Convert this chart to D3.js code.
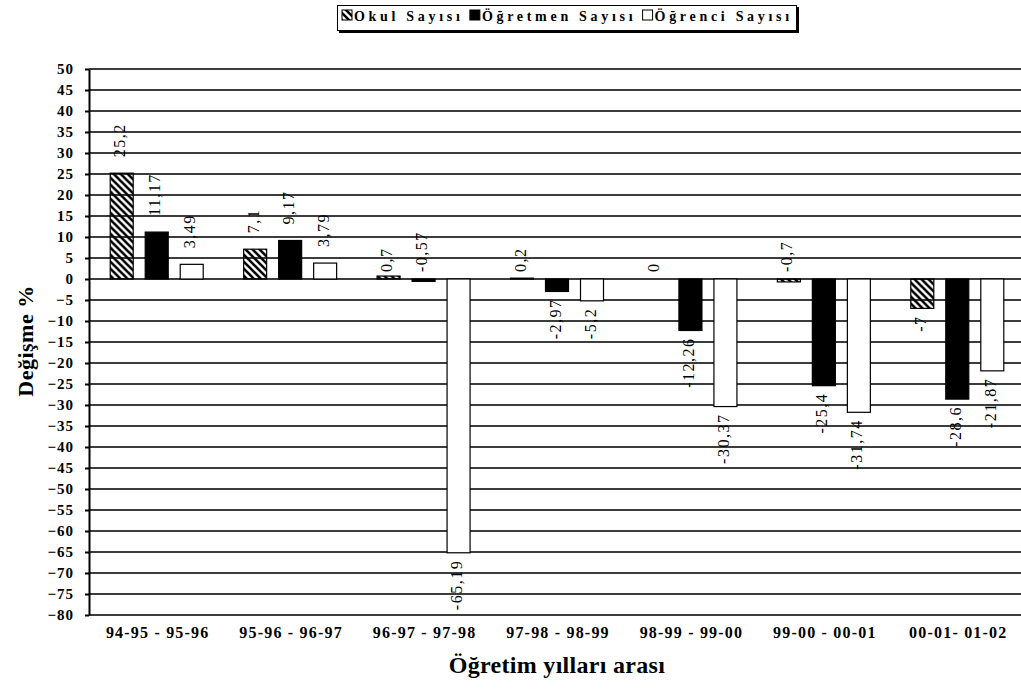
<!DOCTYPE html>
<html>
<head>
<meta charset="utf-8">
<script src="https://cdn.jsdelivr.net/npm/d3@7/dist/d3.min.js"></script>
<style>
  body { margin: 0; background: #fff; }
  svg { display: block; }
  svg text { font-family: 'Liberation Serif', 'Times New Roman', serif; }
</style>
</head>
<body>
<svg id="chart" width="1021" height="692"></svg>
<script>
// Data
let periods = ['94-95 - 95-96', '95-96 - 96-97', '96-97 - 97-98', '97-98 - 98-99',
               '98-99 - 99-00', '99-00 - 00-01', '00-01- 01-02'];
let seriesNames = ['Okul Sayısı', 'Öğretmen Sayısı', 'Öğrenci Sayısı'];
let okul = [25.2, 7.1, 0.7, 0.2, 0, -0.7, -7];
let ogretmen = [11.17, 9.17, -0.57, -2.97, -12.26, -25.4, -28.6];
let ogrenci = [3.49, 3.79, -65.19, -5.2, -30.37, -31.74, -21.87];
let yTicks = d3.range(-80, 51, 5);

let seriesValues = [okul, ogretmen, ogrenci];
let fills = ['url(#hatch)', '#000', '#fff'];

let svg = d3.select('#chart');

// Hatch pattern for the first series (\\\ stripes).
let defs = svg.append('defs');
defs.append('pattern')
    .attr('id', 'hatch')
    .attr('patternUnits', 'userSpaceOnUse')
    .attr('width', 7)
    .attr('height', 7)
  .append('path')
    .attr('d', 'M0,0 L7,7 M-1,6 L1,8 M6,-1 L8,1')
    .attr('stroke', '#000')
    .attr('stroke-width', 2.6);

const LEFT = 89, RIGHT = 1021;

let x = d3.scaleBand()
    .domain(periods)
    .range([90, 1024]);

let xInner = d3.scaleBand()
    .domain(seriesNames)
    .range([-46.5, 46.5])
    .paddingInner(12 / 35)
    .paddingOuter(0);

let y = d3.scaleLinear()
    .domain([-80, 50])
    .range([615, 69]);

// Gridlines.
svg.append('g')
    .selectAll('line')
    .data(yTicks)
  .enter().append('line')
    .attr('x1', LEFT)
    .attr('x2', RIGHT)
    .attr('y1', d => y(d))
    .attr('y2', d => y(d))
    .attr('stroke', '#3c3c3c')
    .attr('stroke-width', 2);

// Y axis.
let yAxis = svg.append('g')
    .attr('transform', 'translate(' + LEFT + ',0)')
    .call(d3.axisLeft(y).tickValues(yTicks).tickSize(4).tickPadding(11).tickSizeOuter(0));
yAxis.attr('font-family', null);
yAxis.select('.domain').attr('stroke', '#000').attr('stroke-width', 2);
yAxis.selectAll('.tick line').attr('stroke', '#000').attr('stroke-width', 2);
yAxis.selectAll('.tick text')
    .attr('font-size', 15)
    .attr('font-weight', 'bold')
    .attr('letter-spacing', 1)
    .attr('fill', '#000');

// Bars.
let groups = svg.append('g')
    .selectAll('g')
    .data(periods)
  .enter().append('g')
    .attr('transform', d => 'translate(' + (x(d) + x.bandwidth() / 2) + ',0)');

let barData = (p, i) => seriesNames.map((s, j) => ({ series: s, index: j, value: seriesValues[j][i] }));

groups.selectAll('rect')
    .data(barData)
  .enter().append('rect')
    .attr('x', d => xInner(d.series))
    .attr('width', xInner.bandwidth())
    .attr('y', d => Math.min(y(d.value), y(0)))
    .attr('height', d => Math.abs(y(d.value) - y(0)))
    .attr('fill', d => fills[d.index])
    .attr('stroke', '#000')
    .attr('stroke-width', 1.2);

// Value labels, rotated, reading bottom to top.
let fmt = v => String(v).replace('.', ',');
groups.selectAll('text.value')
    .data(barData)
  .enter().append('text')
    .attr('class', 'value')
    .attr('font-size', 16)
    .attr('letter-spacing', 1.5)
    .attr('dy', '0.35em')
    .attr('text-anchor', d => d.value < -1 ? 'end' : 'start')
    .attr('transform', d => {
        let cx = xInner(d.series) + xInner.bandwidth() / 2 - 2;
        let cy;
        if (d.value < -1) cy = y(d.value) + 7;
        else if (d.value < 1) cy = y(0) - 7;
        else cy = y(d.value) - 16;
        return 'translate(' + cx + ',' + cy + ') rotate(-90)';
    })
    .text(d => fmt(d.value));

// Category labels.
svg.append('g')
    .selectAll('text')
    .data(periods)
  .enter().append('text')
    .attr('x', d => x(d) + x.bandwidth() / 2 + 1)
    .attr('y', 638)
    .attr('text-anchor', 'middle')
    .attr('font-size', 16)
    .attr('font-weight', 'bold')
    .attr('letter-spacing', 1.2)
    .text(d => d);

// Axis titles.
svg.append('text')
    .attr('x', 557)
    .attr('y', 673)
    .attr('text-anchor', 'middle')
    .attr('font-size', 24)
    .attr('font-weight', 'bold')
    .attr('letter-spacing', 0.3)
    .text('Öğretim yılları arası');

svg.append('text')
    .attr('transform', 'translate(33,341) rotate(-90)')
    .attr('text-anchor', 'middle')
    .attr('font-size', 22)
    .attr('font-weight', 'bold')
    .attr('letter-spacing', 0.5)
    .text('Değişme %');

// Legend.
let legend = svg.append('g');
legend.append('rect')
    .attr('x', 339).attr('y', 7).attr('width', 460).attr('height', 26)
    .attr('fill', '#000');
legend.append('rect')
    .attr('x', 337.5).attr('y', 5.5).attr('width', 459).attr('height', 25)
    .attr('fill', '#fff').attr('stroke', '#000').attr('stroke-width', 1);

const LEGEND_SPACING = 3.7;
let lx = 342;
seriesNames.forEach((name, i) => {
    legend.append('rect')
        .attr('x', lx).attr('y', 10).attr('width', 10).attr('height', 10)
        .attr('fill', fills[i]).attr('stroke', '#000').attr('stroke-width', 1);
    let t = legend.append('text')
        .attr('x', lx + 12)
        .attr('y', 21)
        .attr('font-size', 14)
        .attr('font-weight', 'bold')
        .attr('letter-spacing', LEGEND_SPACING)
        .text(name);
    lx += 12 + t.node().getComputedTextLength() - LEGEND_SPACING + 10;
});
</script>
</body>
</html>
